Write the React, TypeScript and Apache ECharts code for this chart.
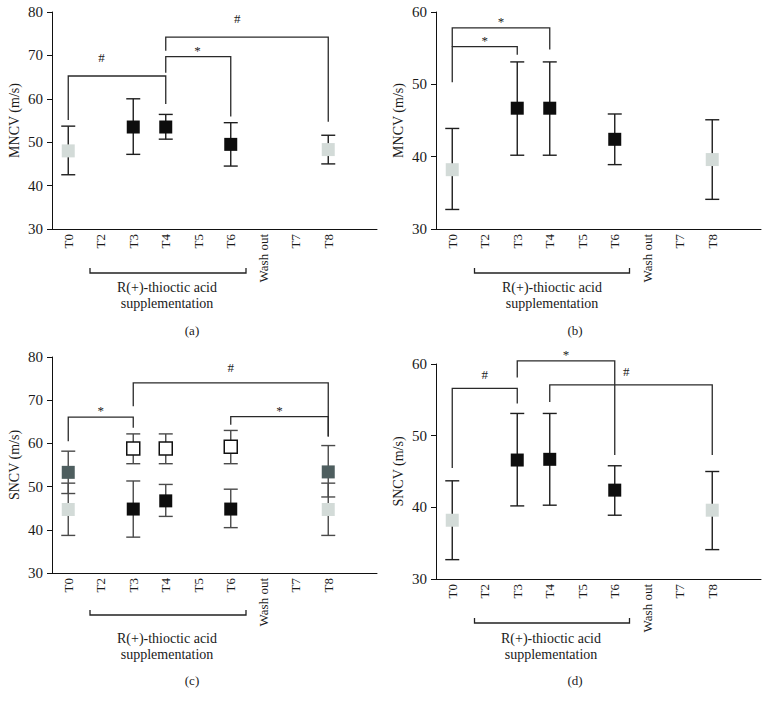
import React, { useEffect, useRef } from "react";
import * as echarts from "echarts";

const FONT = '"Liberation Serif", "DejaVu Serif", serif';

const categories = ["T0", "T2", "T3", "T4", "T5", "T6", "Wash out", "T7", "T8", ""];

// Panel (a) MNCV
const aTimes = ["T0", "T3", "T4", "T6", "T8"];
const aMean = [48.0, 53.5, 53.5, 49.5, 48.3];
const aLow = [42.5, 47.2, 50.7, 44.5, 45.0];
const aHigh = [53.7, 60.0, 56.4, 54.5, 51.6];
const aKind = ["light", "black", "black", "black", "light"];
const aBrFrom = ["T0", "T4", "T4"];
const aBrTo = ["T4", "T6", "T8"];
const aBrTop = [65.25, 69.7, 74.2];
const aBrLeftEnd = [55.1, 66.0, 71.1];
const aBrRightEnd = [58.8, 55.9, 54.7];
const aBrMark = ["#", "*", "#"];

// Panel (b) MNCV
const bTimes = ["T0", "T3", "T4", "T6", "T8"];
const bMean = [38.2, 46.7, 46.7, 42.4, 39.6];
const bLow = [32.7, 40.2, 40.2, 38.9, 34.1];
const bHigh = [43.9, 53.1, 53.1, 45.9, 45.1];
const bKind = ["light", "black", "black", "black", "light"];
const bBrFrom = ["T0", "T0"];
const bBrTo = ["T3", "T4"];
const bBrTop = [55.2, 57.8];
const bBrLeftEnd = [50.3, 55.2];
const bBrRightEnd = [54.1, 54.8];
const bBrMark = ["*", "*"];

// Panel (c) SNCV
const cTimes = ["T0", "T0", "T3", "T3", "T4", "T4", "T6", "T6", "T8", "T8"];
const cMean = [53.3, 44.7, 58.8, 44.8, 58.8, 46.7, 59.2, 44.8, 53.4, 44.7];
const cLow = [48.4, 38.7, 55.3, 38.3, 55.3, 43.1, 55.3, 40.5, 47.6, 38.7];
const cHigh = [58.2, 50.8, 62.2, 51.3, 62.2, 50.5, 63.0, 49.4, 59.5, 50.8];
const cKind = ["dark", "light", "white", "black", "white", "black", "white", "black", "dark", "light"];
const cBrFrom = ["T0", "T3", "T6"];
const cBrTo = ["T3", "T8", "T8"];
const cBrTop = [66.1, 74.0, 66.2];
const cBrLeftEnd = [60.5, 68.6, 64.3];
const cBrRightEnd = [63.6, 61.6, 61.6];
const cBrMark = ["*", "#", "*"];

// Panel (d) SNCV
const dTimes = ["T0", "T3", "T4", "T6", "T8"];
const dMean = [38.2, 46.6, 46.7, 42.4, 39.6];
const dLow = [32.7, 40.2, 40.3, 38.9, 34.1];
const dHigh = [43.7, 53.1, 53.1, 45.8, 45.0];
const dKind = ["light", "black", "black", "black", "light"];
const dBrFrom = ["T0", "T3", "T4"];
const dBrTo = ["T3", "T6", "T8"];
const dBrTop = [56.6, 60.45, 57.1];
const dBrLeftEnd = [45.5, 58.1, 54.7];
const dBrRightEnd = [54.5, 47.3, 47.3];
const dBrMark = ["#", "*", "#"];

const yTicksMNCV_A = [30, 80];
const yTicksMNCV_B = [30, 60];
const yTicksSNCV_C = [30, 80];
const yTicksSNCV_D = [30, 60];

const supplementLines = ["R(+)-thioctic acid", "supplementation"];
const panelLetters = ["(a)", "(b)", "(c)", "(d)"];

const kindStyle: Record<string, { fill: string; border: string; bw: number }> = {
  light: { fill: "#d3dbd8", border: "#d3dbd8", bw: 0 },
  black: { fill: "#0d0d0d", border: "#0d0d0d", bw: 0 },
  dark: { fill: "#4e5e5f", border: "#4e5e5f", bw: 0 },
  white: { fill: "#ffffff", border: "#111111", bw: 1.5 },
};

type Panel = {
  times: string[]; mean: number[]; low: number[]; high: number[]; kind: string[];
  brFrom: string[]; brTo: string[]; brTop: number[]; brL: number[]; brR: number[]; brMark: string[];
  yRange: number[]; yName: string;
  grid: { left: number; top: number; width: number; height: number };
  barColor: string; hashLift: number; labelT: number[];
  ox: number; bracketY: number; textY1: number; textY2: number; letterY: number;
  brX0: number; brX1: number; textX: number; letterX: number;
};

const panels: Panel[] = [
  {
    times: aTimes, mean: aMean, low: aLow, high: aHigh, kind: aKind,
    brFrom: aBrFrom, brTo: aBrTo, brTop: aBrTop, brL: aBrLeftEnd, brR: aBrRightEnd, brMark: aBrMark,
    yRange: yTicksMNCV_A, yName: "MNCV (m/s)",
    grid: { left: 52, top: 12, width: 325, height: 217 },
    barColor: "#1e1e1e", hashLift: 12, labelT: [0.34, 0.49, 0.44],
    ox: 0, bracketY: 273, textY1: 287, textY2: 303, letterY: 330,
    brX0: 90, brX1: 246, textX: 167, letterX: 192,
  },
  {
    times: bTimes, mean: bMean, low: bLow, high: bHigh, kind: bKind,
    brFrom: bBrFrom, brTo: bBrTo, brTop: bBrTop, brL: bBrLeftEnd, brR: bBrRightEnd, brMark: bBrMark,
    yRange: yTicksMNCV_B, yName: "MNCV (m/s)",
    grid: { left: 436, top: 12, width: 325, height: 217 },
    barColor: "#1e1e1e", hashLift: 7, labelT: [0.5, 0.5],
    ox: 384, bracketY: 273, textY1: 287, textY2: 303, letterY: 330,
    brX0: 90.5, brX1: 245.5, textX: 168, letterX: 191,
  },
  {
    times: cTimes, mean: cMean, low: cLow, high: cHigh, kind: cKind,
    brFrom: cBrFrom, brTo: cBrTo, brTop: cBrTop, brL: cBrLeftEnd, brR: cBrRightEnd, brMark: cBrMark,
    yRange: yTicksSNCV_C, yName: "SNCV (m/s)",
    grid: { left: 52, top: 357, width: 325, height: 216 },
    barColor: "#4a4a4a", hashLift: 9, labelT: [0.5, 0.5, 0.5],
    ox: 0, bracketY: 615, textY1: 638, textY2: 654, letterY: 680,
    brX0: 90, brX1: 246, textX: 167, letterX: 192,
  },
  {
    times: dTimes, mean: dMean, low: dLow, high: dHigh, kind: dKind,
    brFrom: dBrFrom, brTo: dBrTo, brTop: dBrTop, brL: dBrLeftEnd, brR: dBrRightEnd, brMark: dBrMark,
    yRange: yTicksSNCV_D, yName: "SNCV (m/s)",
    grid: { left: 436, top: 364, width: 325, height: 215 },
    barColor: "#1e1e1e", hashLift: 7, labelT: [0.5, 0.5, 0.47],
    ox: 384, bracketY: 623, textY1: 638, textY2: 654, letterY: 680,
    brX0: 90.5, brX1: 245.5, textX: 167, letterX: 191,
  },
];

function buildOption() {
  const grids: any[] = [];
  const xAxes: any[] = [];
  const yAxes: any[] = [];
  const series: any[] = [];
  const graphics: any[] = [];

  panels.forEach((p, i) => {
    grids.push({ ...p.grid, containLabel: false });
    xAxes.push({
      gridIndex: i,
      type: "category",
      data: categories,
      boundaryGap: true,
      axisLine: { show: true, lineStyle: { color: "#111", width: 1 } },
      axisTick: { show: false },
      axisLabel: {
        interval: 0, rotate: 90, margin: 5,
        fontFamily: FONT, fontSize: 13, color: "#1a1a1a",
      },
      splitLine: { show: false },
    });
    yAxes.push({
      gridIndex: i,
      type: "value",
      min: p.yRange[0], max: p.yRange[1], interval: 10,
      axisLine: { show: true, lineStyle: { color: "#111", width: 1 } },
      axisTick: { show: true, length: 5, lineStyle: { color: "#111" } },
      axisLabel: { fontFamily: FONT, fontSize: 15, color: "#1a1a1a", margin: 9 },
      splitLine: { show: false },
      name: p.yName,
      nameLocation: "middle",
      nameGap: 31,
      nameTextStyle: { fontFamily: FONT, fontSize: 14, color: "#1a1a1a" },
    });

    const idx = (t: string) => categories.indexOf(t);
    const barColor = p.barColor;

    series.push({
      type: "custom",
      xAxisIndex: i, yAxisIndex: i,
      z: 2,
      itemStyle: { color: barColor },
      encode: { x: 0, y: [1, 2] },
      data: p.times.map((t, k) => [idx(t), p.low[k], p.high[k]]),
      renderItem: (params: any, api: any) => {
        const x = api.value(0);
        const lo = api.coord([x, api.value(1)]);
        const hi = api.coord([x, api.value(2)]);
        const w = 7;
        const st = { stroke: barColor, lineWidth: 1.4 };
        return {
          type: "group",
          children: [
            { type: "line", shape: { x1: lo[0], y1: lo[1], x2: hi[0], y2: hi[1] }, style: st },
            { type: "line", shape: { x1: lo[0] - w, y1: lo[1], x2: lo[0] + w, y2: lo[1] }, style: st },
            { type: "line", shape: { x1: hi[0] - w, y1: hi[1], x2: hi[0] + w, y2: hi[1] }, style: st },
          ],
        };
      },
    });

    series.push({
      type: "scatter",
      xAxisIndex: i, yAxisIndex: i,
      z: 3,
      symbol: "rect",
      symbolSize: 13,
      data: p.times.map((t, k) => {
        const ks = kindStyle[p.kind[k]];
        return {
          value: [idx(t), p.mean[k]],
          itemStyle: { color: ks.fill, borderColor: ks.border, borderWidth: ks.bw, opacity: 1 },
        };
      }),
    });

    const marks = p.brMark;
    const lts = p.labelT;
    const lift = p.hashLift;
    series.push({
      type: "custom",
      xAxisIndex: i, yAxisIndex: i,
      z: 4,
      clip: false,
      itemStyle: { color: "#222222" },
      encode: { x: 0, y: 2 },
      data: p.brFrom.map((f, k) => [idx(f), idx(p.brTo[k]), p.brTop[k], p.brL[k], p.brR[k]]),
      renderItem: (params: any, api: any) => {
        const x0 = api.value(0);
        const x1 = api.value(1);
        const top = api.value(2);
        const pL = api.coord([x0, api.value(3)]);
        const pTL = api.coord([x0, top]);
        const pTR = api.coord([x1, top]);
        const pR = api.coord([x1, api.value(4)]);
        const mark = marks[params.dataIndex];
        const t = lts[params.dataIndex] ?? 0.5;
        const lx = pTL[0] + (pTR[0] - pTL[0]) * t;
        const ly = pTL[1] - (mark === "#" ? lift : 0);
        return {
          type: "group",
          children: [
            {
              type: "polyline",
              shape: { points: [pL, pTL, pTR, pR] },
              style: { stroke: "#2a2a2a", lineWidth: 1.3, fill: "none" },
            },
            {
              type: "text",
              x: lx,
              y: ly,
              style: {
                text: mark,
                textAlign: "center", textVerticalAlign: "bottom",
                fontFamily: FONT, fontSize: 13, fill: "#222222",
              },
            },
          ],
        };
      },
    });

    const bx0 = p.ox + p.brX0;
    const bx1 = p.ox + p.brX1;
    graphics.push({
      type: "polyline",
      shape: { points: [[bx0, p.bracketY - 5], [bx0, p.bracketY], [bx1, p.bracketY], [bx1, p.bracketY - 5]] },
      style: { stroke: "#222", lineWidth: 1.3, fill: "none" },
    });
    supplementLines.forEach((s, j) => {
      graphics.push({
        type: "text",
        x: p.ox + p.textX,
        y: j === 0 ? p.textY1 : p.textY2,
        style: {
          text: s, textAlign: "center", textVerticalAlign: "middle",
          fontFamily: FONT, fontSize: 14, fill: "#1a1a1a",
        },
      });
    });
    graphics.push({
      type: "text",
      x: p.ox + p.letterX,
      y: p.letterY,
      style: {
        text: panelLetters[i], textAlign: "center", textVerticalAlign: "middle",
        fontFamily: FONT, fontSize: 13, fill: "#1a1a1a",
      },
    });
  });

  return {
    animation: false,
    backgroundColor: "#ffffff",
    grid: grids,
    xAxis: xAxes,
    yAxis: yAxes,
    series,
    graphic: graphics,
  };
}

export default function App() {
  const ref = useRef<HTMLDivElement>(null);
  useEffect(() => {
    document.body.style.margin = "0";
    if (!ref.current) return;
    const chart = echarts.init(ref.current, undefined, { renderer: "svg" });
    chart.setOption(buildOption() as any);
    return () => chart.dispose();
  }, []);
  return (
    <div
      ref={ref}
      style={{ position: "absolute", left: 0, top: 0, width: 769, height: 707, background: "#fff" }}
    />
  );
}
